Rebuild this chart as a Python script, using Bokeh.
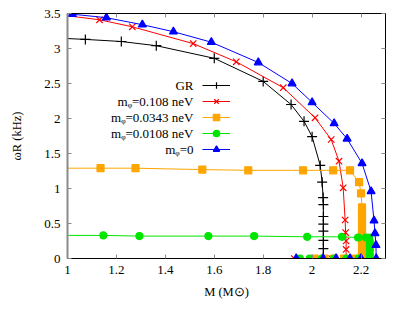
import math
from bokeh.plotting import figure
from bokeh.models import (Range1d, LinearAxis, FixedTicker, CustomJSTickFormatter,
                          Label, Legend, LegendItem)
from bokeh.core.properties import value
from bokeh.embed import file_html
from bokeh.resources import INLINE

# ---------------- data ----------------
gr_mass = [0.95, 1.073, 1.220, 1.363, 1.600, 1.800, 1.914, 1.967, 2.000, 2.033,
           2.041, 2.045, 2.046, 2.046, 2.046, 2.046, 2.046, 2.046, 2.046]
gr_freq = [3.15, 3.13, 3.10, 3.04, 2.86, 2.53, 2.20, 1.96, 1.74, 1.33,
           1.09, 0.87, 0.77, 0.60, 0.49, 0.39, 0.26, 0.14, 0.01]

m108_mass = [0.95, 1.131, 1.265, 1.514, 1.690, 1.882, 2.012, 2.078, 2.110, 2.127,
             2.135, 2.137, 2.139, 2.139, 2.139, 2.080, 2.000, 1.927]
m108_freq = [3.49, 3.41, 3.31, 3.07, 2.81, 2.44, 2.01, 1.70, 1.39, 1.01,
             0.55, 0.37, 0.25, 0.13, 0.00, 0.00, 0.00, 0.00]

m0343_mass = [0.95, 1.135, 1.278, 1.551, 1.739, 1.963, 2.086, 2.155, 2.192, 2.200,
              2.204, 2.204, 2.204, 2.204, 2.204, 2.204, 2.204, 2.204, 2.204, 2.204,
              2.170, 2.130, 2.090, 2.050, 2.010]
m0343_freq = [1.29, 1.29, 1.29, 1.27, 1.26, 1.26, 1.26, 1.26, 1.09, 0.93,
              0.73, 0.65, 0.57, 0.49, 0.41, 0.33, 0.25, 0.17, 0.09, 0.00,
              0.00, 0.00, 0.00, 0.00, 0.00]

m0108_mass = [0.95, 1.147, 1.294, 1.576, 1.763, 1.980, 2.122, 2.188, 2.220, 2.233,
              2.236, 2.236, 2.236, 2.236, 2.236, 2.190, 2.140, 2.090, 2.040, 1.990, 1.950]
m0108_freq = [0.33, 0.33, 0.32, 0.32, 0.32, 0.31, 0.31, 0.30, 0.30, 0.30,
              0.24, 0.18, 0.12, 0.06, 0.00, 0.00, 0.00, 0.00, 0.00, 0.00, 0.00]

m0_mass = [0.95, 1.020, 1.159, 1.306, 1.433, 1.588, 1.780, 1.918, 2.000, 2.090,
           2.143, 2.204, 2.241, 2.253, 2.257, 2.261, 2.262, 2.200, 2.155, 2.098,
           2.045, 1.935]
m0_freq = [3.52, 3.49, 3.44, 3.34, 3.24, 3.09, 2.80, 2.50, 2.23, 1.93,
           1.71, 1.36, 0.96, 0.54, 0.36, 0.19, 0.00, 0.00, 0.00, 0.00,
           0.00, 0.00]

x_ticks = [1.0, 1.2, 1.4, 1.6, 1.8, 2.0, 2.2]
y_ticks = [0.0, 0.5, 1.0, 1.5, 2.0, 2.5, 3.0, 3.5]

legend_labels = ["GR", "m\u1d69=0.108 neV", "m\u1d69=0.0343 neV",
                 "m\u1d69=0.0108 neV", "m\u1d69=0"]
x_title = "M (M\u2299)"
y_title = "\u03c9R (kHz)"

# ---------------- figure ----------------
FONT = "Liberation Serif"
p = figure(width=402, height=308, output_backend="svg", toolbar_location=None,
           x_range=Range1d(1.0, 2.3), y_range=Range1d(0.0, 3.5),
           min_border_left=67, min_border_right=17, min_border_top=13,
           min_border_bottom=50)
p.xgrid.visible = False
p.ygrid.visible = False
p.outline_line_color = "black"
p.outline_line_width = 1
p.background_fill_color = "white"
p.border_fill_color = "white"

fmt = CustomJSTickFormatter(code="return Number(tick.toFixed(2)).toString();")
empty_fmt = CustomJSTickFormatter(code="return '';")


def style_axis(ax, ticks, show_labels):
    ax.ticker = FixedTicker(ticks=ticks)
    ax.formatter = fmt if show_labels else empty_fmt
    ax.major_tick_in = 4
    ax.major_tick_out = 0
    ax.minor_tick_in = 0
    ax.minor_tick_out = 0
    ax.major_tick_line_color = "#8a8a8a"
    ax.major_label_text_font = FONT
    ax.major_label_text_font_size = "13px" if show_labels else "0px"
    ax.major_label_text_color = "black"
    ax.major_label_standoff = 7 if show_labels else 0
    ax.axis_line_color = "black"
    ax.axis_label_text_font = FONT
    ax.axis_label_text_font_size = "12.5px"
    ax.axis_label_text_font_style = "normal"
    ax.axis_label_text_color = "black"


style_axis(p.xaxis[0], x_ticks, True)
style_axis(p.yaxis[0], y_ticks, True)
p.yaxis[0].axis_line_color = "#8a8a8a"
p.yaxis[0].axis_line_width = 2
p.xaxis[0].axis_label = x_title
p.xaxis[0].axis_label_standoff = 8
p.yaxis[0].axis_label = y_title
p.yaxis[0].axis_label_standoff = 17

top_ax = LinearAxis()
right_ax = LinearAxis()
style_axis(top_ax, x_ticks, False)
style_axis(right_ax, y_ticks, False)
p.add_layout(top_ax, "above")
p.add_layout(right_ax, "right")

series = [
    (gr_mass, gr_freq, "black", "cross", 10),
    (m108_mass, m108_freq, "#ff0000", "x", 9),
    (m0343_mass, m0343_freq, "#ffa500", "square", 7),
    (m0108_mass, m0108_freq, "#00e600", "circle", 7),
    (m0_mass, m0_freq, "#0000ff", "triangle", 8),
]

items = []
for (xs, ys, col, mk, sz), lab in zip(series, legend_labels):
    lr = p.line(xs, ys, line_color=col, line_width=1)
    sr = p.scatter(xs, ys, marker=mk, size=sz, line_color=col, fill_color=col,
                   line_width=1.2)
    items.append(LegendItem(label=value(""), renderers=[lr, sr]))

legend = Legend(items=items, location=(135, 101), glyph_width=28, glyph_height=16,
                spacing=0, padding=0, margin=0, border_line_color=None,
                background_fill_alpha=0, label_width=0, label_standoff=0,
                label_height=0, label_text_font_size="0px")
p.add_layout(legend)

# legend texts (right aligned, left of the samples)
for i, lab in enumerate(legend_labels):
    p.add_layout(Label(x=126, y=173 - 16 * i, x_units="screen", y_units="screen",
                       text=lab, text_align="right", text_baseline="middle",
                       text_font=FONT, text_font_size="13px", text_color="black"))

open("out.html", "w").write(file_html(p, INLINE))
